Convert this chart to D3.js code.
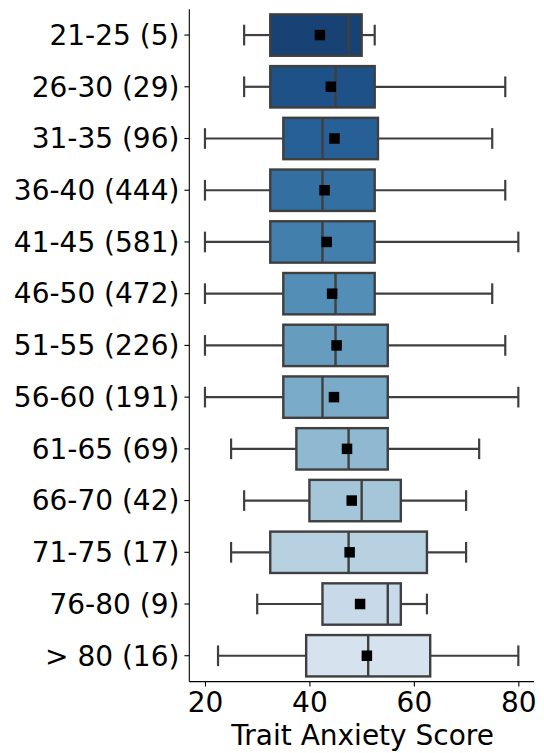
<!DOCTYPE html>
<html><head><meta charset="utf-8">
<script src="https://cdn.jsdelivr.net/npm/d3@7"></script>
<style>body{margin:0;background:#fff}svg{display:block}text{font-family:"DejaVu Sans",sans-serif}</style>
</head><body><svg id="c" width="544" height="753"></svg>
<script>
const categories = ["21-25 (5)","26-30 (29)","31-35 (96)","36-40 (444)","41-45 (581)","46-50 (472)","51-55 (226)","56-60 (191)","61-65 (69)","66-70 (42)","71-75 (17)","76-80 (9)","> 80 (16)"];
const whiskerLow  = [27.5,27.5,20,20,20,20,20,20,25,27.5,25,30,22.5];
const q1          = [32.5,32.5,35,32.5,32.5,35,35,35,37.5,40,32.5,42.5,39.375];
const medians     = [47.5,45,42.5,42.5,42.5,45,45,42.5,47.5,50,47.5,55,51.25];
const q3          = [50,52.5,53.125,52.5,52.5,52.5,55,55,55,57.5,62.5,57.5,63.125];
const whiskerHigh = [52.5,77.5,75,77.5,80,75,77.5,80,72.5,70,70,62.5,80];
const means       = [42,44.1,44.8,42.9,43.3,44.35,45.2,44.7,47.2,48.1,47.7,49.7,51];
const xTicks = [20,40,60,80];

const svg = d3.select("#c");
const L = 189.3, R = 534, T = 9.2, B = 681.6;
const x = d3.scaleLinear().domain([17,83]).range([L,R]);
const y = d3.scaleBand().domain(categories).range([T,B]).paddingInner(0).paddingOuter(0);
const bw = y.bandwidth()*0.8;
const colors = categories.map((c,i)=>{
  const h = d3.hsl(d3.interpolateBlues(1-(i+1)/16));
  h.s *= 0.75; return h.formatHex();
});
const lc = "#3f3f3f";
const data = categories.map((c,i)=>({c,lo:whiskerLow[i],q1:q1[i],med:medians[i],q3:q3[i],hi:whiskerHigh[i],mean:means[i],col:colors[i]}));

const g = svg.append("g");
data.forEach(d=>{
  const cy = y(d.c)+y.bandwidth()/2;
  const gg = g.append("g");
  gg.append("line").attr("x1",x(d.lo)).attr("x2",x(d.q1)).attr("y1",cy).attr("y2",cy).attr("stroke",lc).attr("stroke-width",2.2);
  gg.append("line").attr("x1",x(d.q3)).attr("x2",x(d.hi)).attr("y1",cy).attr("y2",cy).attr("stroke",lc).attr("stroke-width",2.2);
  [d.lo,d.hi].forEach(v=>gg.append("line").attr("x1",x(v)).attr("x2",x(v)).attr("y1",cy-bw/4).attr("y2",cy+bw/4).attr("stroke",lc).attr("stroke-width",2.2));
  gg.append("rect").attr("x",x(d.q1)).attr("y",cy-bw/2).attr("width",x(d.q3)-x(d.q1)).attr("height",bw)
    .attr("fill",d.col).attr("stroke",lc).attr("stroke-width",2.4);
  gg.append("line").attr("x1",x(d.med)).attr("x2",x(d.med)).attr("y1",cy-bw/2).attr("y2",cy+bw/2).attr("stroke",lc).attr("stroke-width",2.4);
  const s=10.5;
  gg.append("rect").attr("x",x(d.mean)-s/2).attr("y",cy-s/2).attr("width",s).attr("height",s).attr("fill","#000");
});

// axes
const fs = 28;
const xa = svg.append("g").attr("transform",`translate(0,${B})`)
  .call(d3.axisBottom(x).tickValues(xTicks).tickSize(4.9).tickPadding(4));
xa.select(".domain").remove();
xa.selectAll("line").attr("stroke","#000").attr("stroke-width",1.1);
xa.selectAll("text").attr("font-size",fs).attr("fill","#000").attr("dy","0.78em");
const ya = svg.append("g").attr("transform",`translate(${L},0)`)
  .call(d3.axisLeft(y).tickSize(4.9).tickPadding(5));
ya.select(".domain").remove();
ya.selectAll("line").attr("stroke","#000").attr("stroke-width",1.1);
ya.selectAll("text").attr("font-size",fs).attr("fill","#000").attr("dy","0.35em");
svg.append("line").attr("x1",L).attr("x2",L).attr("y1",T).attr("y2",B).attr("stroke","#000").attr("stroke-width",1.1);
svg.append("line").attr("x1",L).attr("x2",R).attr("y1",B).attr("y2",B).attr("stroke","#000").attr("stroke-width",1.1);
svg.append("text").attr("x",(L+R)/2 + 1).attr("y",745).attr("text-anchor","middle").attr("font-size",fs).attr("fill","#000").text("Trait Anxiety Score");
</script></body></html>
